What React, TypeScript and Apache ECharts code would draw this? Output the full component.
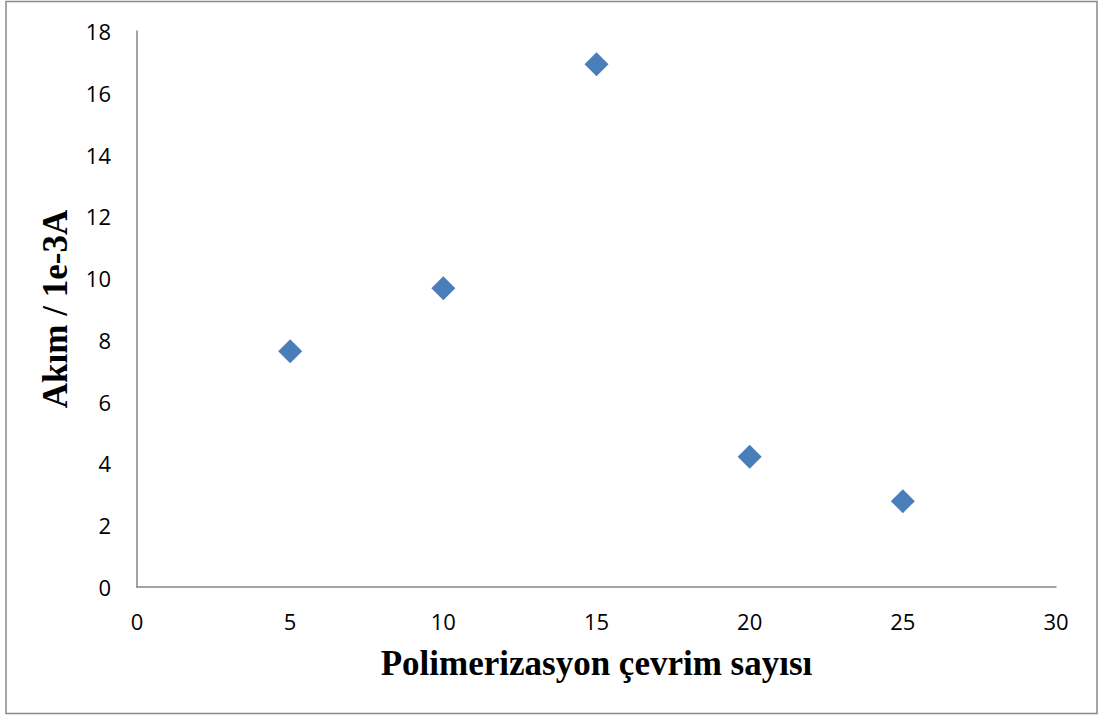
import React, { useEffect, useRef } from "react";
import * as echarts from "echarts";

const xValues = [5, 10, 15, 20, 25];
const yValues = [7.63, 9.67, 16.92, 4.22, 2.78];
const xTitle = "Polimerizasyon çevrim sayısı";
const yTitle = "Akım / 1e-3A";

export default function App() {
  const ref = useRef<HTMLDivElement>(null);
  useEffect(() => {
    if (!ref.current) return;
    const chart = echarts.init(ref.current, null, { renderer: "svg" });
    const data = xValues.map((x, i) => [x, yValues[i]]);
    chart.setOption({
      animation: false,
      backgroundColor: "#ffffff",
      grid: { left: 137, top: 31, right: 43, bottom: 128 },
      graphic: [
        {
          type: "rect",
          shape: { x: 6, y: 1.5, width: 1091, height: 712 },
          style: { fill: "none", stroke: "#898989", lineWidth: 1.5 },
          silent: true,
        },
      ],
      xAxis: {
        type: "value",
        min: 0,
        max: 30,
        interval: 5,
        name: xTitle,
        nameLocation: "middle",
        nameGap: 59,
        nameTextStyle: {
          fontFamily: "Liberation Serif",
          fontWeight: "bold",
          fontSize: 35,
          color: "#000",
        },
        axisLine: { show: true, lineStyle: { color: "#868686", width: 1.5 } },
        axisTick: { show: false },
        splitLine: { show: false },
        axisLabel: {
          fontFamily: "Open Sans",
          fontSize: 22,
          color: "#000",
          margin: 23,
        },
      },
      yAxis: {
        type: "value",
        min: 0,
        max: 18,
        interval: 2,
        name: yTitle,
        nameLocation: "middle",
        nameGap: 64,
        nameTextStyle: {
          fontFamily: "Liberation Serif",
          fontWeight: "bold",
          fontSize: 35,
          color: "#000",
        },
        axisLine: { show: true, lineStyle: { color: "#868686", width: 1.5 } },
        axisTick: { show: false },
        splitLine: { show: false },
        axisLabel: {
          fontFamily: "Open Sans",
          fontSize: 22,
          color: "#000",
          margin: 26,
        },
      },
      series: [
        {
          type: "scatter",
          data,
          symbol: "diamond",
          symbolSize: 24,
          itemStyle: { color: "#4a7ebb", opacity: 1 },
        },
      ],
    });
    return () => chart.dispose();
  }, []);
  return (
    <div
      ref={ref}
      style={{ position: "fixed", left: 0, top: 0, width: 1099, height: 715 }}
    />
  );
}
